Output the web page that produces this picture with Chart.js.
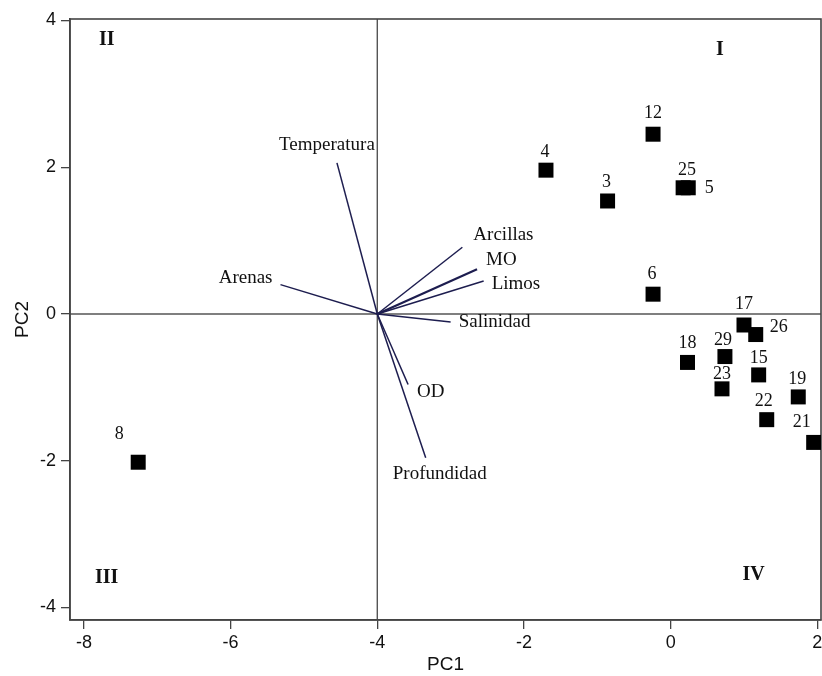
<!DOCTYPE html>
<html>
<head>
<meta charset="utf-8">
<script src="https://cdn.jsdelivr.net/npm/chart.js@4.4.1/dist/chart.umd.min.js"></script>
<style>
  html, body { margin: 0; padding: 0; background: #fff; }
  #wrap { width: 822px; height: 676px; }
</style>
</head>
<body>
<div id="wrap"><canvas id="pcaChart" width="822" height="676"></canvas></div>
<script>
// sampling sites (scores)
const siteNames = ['12', '4', '3', '25', '5', '6', '17', '26', '18', '29', '15', '23', '19', '22', '21', '8'];
const sitePC1 = [-0.24, -1.70, -0.86, 0.17, 0.24, -0.24, 1.00, 1.16, 0.23, 0.74, 1.20, 0.70, 1.74, 1.31, 1.95, -7.26];
const sitePC2 = [2.45, 1.96, 1.54, 1.72, 1.72, 0.27, -0.15, -0.28, -0.66, -0.58, -0.83, -1.02, -1.13, -1.44, -1.75, -2.02];

// environmental variables (loadings), drawn from the biplot origin
const varNames = ['Temperatura', 'Arenas', 'Arcillas', 'MO', 'Limos', 'Salinidad', 'OD', 'Profundidad'];
const varPC1 = [-4.55, -5.32, -2.84, -2.64, -2.55, -3.00, -3.58, -3.34];
const varPC2 = [2.06, 0.40, 0.91, 0.61, 0.45, -0.11, -0.96, -1.96];
const vectorOrigin = { x: -4, y: 0 };

// quadrant labels
const quadrantNames = ['I', 'II', 'III', 'IV'];
const quadrantPC1 = [0.67, -7.69, -7.69, 1.13];
const quadrantPC2 = [3.60, 3.74, -3.59, -3.55];

const xTicks = [-8, -6, -4, -2, 0, 2];
const yTicks = [-4, -2, 0, 2, 4];

// label placement (pixel offsets from the mark)
const siteLabelOffset = {
    '12': [0, -21], '4': [-1, -18], '3': [-1, -19], '25': [4, -18], '5': [21, 0],
    '6': [-1, -20], '17': [0, -21], '26': [23, -7], '18': [0, -19], '29': [-2, -16],
    '15': [0, -17], '23': [0, -15], '19': [-1, -18], '22': [-3, -18], '21': [-12, -20],
    '8': [-19, -28]
};
const varLabelOffset = {
    'Temperatura': ['center', -10, -18],
    'Arenas': ['right', -8, -7],
    'Arcillas': ['left', 11, -12],
    'MO': ['left', 9, -9],
    'Limos': ['left', 8, 3],
    'Salinidad': ['left', 8, 0],
    'OD': ['left', 9, 8],
    'Profundidad': ['center', 14, 16]
};

const serif = '"Liberation Serif", "Times New Roman", serif';
const sans = '"Liberation Sans", Arial, sans-serif';
const frameColor = '#444';
const vectorColor = '#1d1d4f';

const vectorDatasets = varNames.map((name, i) => ({
    type: 'line',
    label: name,
    data: [vectorOrigin, { x: varPC1[i], y: varPC2[i] }],
    borderColor: vectorColor,
    borderWidth: name === 'MO' ? 2.2 : 1.5,
    pointRadius: 0,
    fill: false
}));

const siteDataset = {
    type: 'scatter',
    label: 'Sitios',
    data: siteNames.map((n, i) => ({ x: sitePC1[i], y: sitePC2[i] })),
    pointStyle: 'rect',
    pointRadius: 10.6,
    pointHoverRadius: 10.6,
    backgroundColor: '#000',
    borderWidth: 0
};

const biplotDecor = {
    id: 'biplotDecor',
    beforeDatasetsDraw(chart) {
        const { ctx, chartArea: a, scales: { x, y } } = chart;
        ctx.save();
        ctx.strokeStyle = '#555';
        ctx.lineWidth = 1.4;
        const x0 = x.getPixelForValue(vectorOrigin.x);
        const y0 = y.getPixelForValue(vectorOrigin.y);
        ctx.beginPath();
        ctx.moveTo(x0, a.top); ctx.lineTo(x0, a.bottom);
        ctx.moveTo(a.left, y0); ctx.lineTo(a.right, y0);
        ctx.stroke();
        ctx.strokeStyle = frameColor;
        ctx.lineWidth = 1.6;
        ctx.strokeRect(a.left, a.top, a.right - a.left, a.bottom - a.top);
        ctx.restore();
    },
    afterDatasetsDraw(chart) {
        const { ctx, scales: { x, y } } = chart;
        ctx.save();
        ctx.fillStyle = '#111';
        ctx.textBaseline = 'middle';

        ctx.font = '18px ' + serif;
        ctx.textAlign = 'center';
        siteNames.forEach((n, i) => {
            const [dx, dy] = siteLabelOffset[n];
            ctx.fillText(n, x.getPixelForValue(sitePC1[i]) + dx, y.getPixelForValue(sitePC2[i]) + dy);
        });

        ctx.font = '19px ' + serif;
        varNames.forEach((n, i) => {
            const [align, dx, dy] = varLabelOffset[n];
            ctx.textAlign = align;
            ctx.fillText(n, x.getPixelForValue(varPC1[i]) + dx, y.getPixelForValue(varPC2[i]) + dy);
        });

        ctx.font = 'bold 20px ' + serif;
        ctx.textAlign = 'center';
        quadrantNames.forEach((n, i) => {
            ctx.fillText(n, x.getPixelForValue(quadrantPC1[i]), y.getPixelForValue(quadrantPC2[i]));
        });
        ctx.restore();
    }
};

new Chart(document.getElementById('pcaChart'), {
    type: 'scatter',
    data: { datasets: [...vectorDatasets, siteDataset] },
    options: {
        responsive: false,
        animation: false,
        layout: { autoPadding: false, padding: { top: 19, right: 1, left: 0, bottom: 0 } },
        plugins: { legend: { display: false }, tooltip: { enabled: false } },
        scales: {
            x: {
                type: 'linear',
                position: 'bottom',
                min: -8.19,
                max: 2.05,
                afterBuildTicks: s => { s.ticks = xTicks.map(v => ({ value: v })); },
                afterFit: s => { s.height = 56; s.paddingLeft = 0; s.paddingRight = 0; },
                grid: { drawOnChartArea: false, drawTicks: true, tickLength: 9, color: frameColor, lineWidth: 1.3 },
                border: { display: true, color: frameColor, width: 1.6 },
                ticks: { color: '#111', font: { family: sans, size: 18 }, padding: 3, maxRotation: 0, autoSkip: false },
                title: { display: true, text: 'PC1', color: '#111', font: { family: sans, size: 19 }, padding: { top: 0, bottom: 0 } }
            },
            y: {
                type: 'linear',
                position: 'left',
                min: -4.17,
                max: 4.02,
                afterBuildTicks: s => { s.ticks = yTicks.map(v => ({ value: v })); },
                afterFit: s => { s.width = 70; s.paddingTop = 0; s.paddingBottom = 0; },
                grid: { drawOnChartArea: false, drawTicks: true, tickLength: 9, color: frameColor, lineWidth: 1.3 },
                border: { display: true, color: frameColor, width: 1.6 },
                ticks: { color: '#111', font: { family: sans, size: 18 }, padding: 5, autoSkip: false },
                title: { display: true, text: 'PC2', color: '#111', font: { family: sans, size: 19 }, padding: { top: 11, bottom: 0 } }
            }
        }
    },
    plugins: [biplotDecor]
});
</script>
</body>
</html>
